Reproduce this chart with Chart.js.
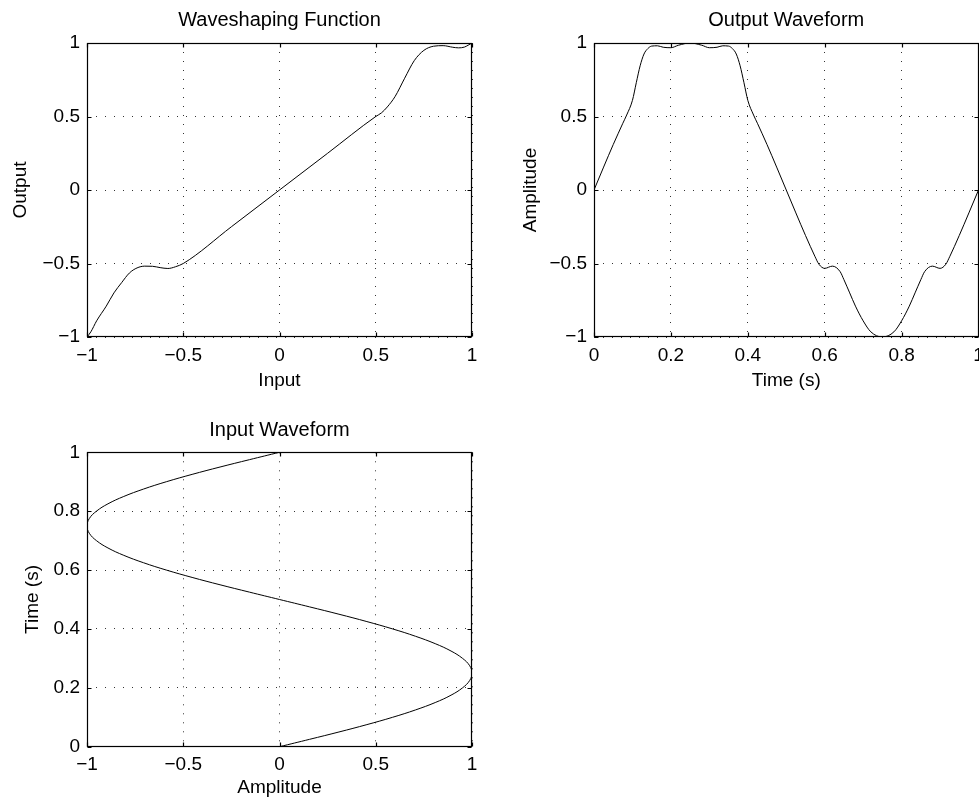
<!DOCTYPE html>
<html>
<head>
<meta charset="utf-8">
<script src="https://cdn.jsdelivr.net/npm/chart.js@4.4.1/dist/chart.umd.min.js"></script>
<style>
  html, body { margin: 0; padding: 0; background: #fff; overflow: hidden; }
  #wrap { position: relative; width: 979px; height: 799px; overflow: hidden; }
  canvas { position: absolute; }
</style>
</head>
<body>
<div id="wrap">
  <canvas id="shapeChart" width="490" height="400" style="left:0;top:0"></canvas>
  <canvas id="outputChart" width="500" height="400" style="left:500px;top:0"></canvas>
  <canvas id="inputChart" width="490" height="399" style="left:0;top:400px"></canvas>
</div>
<script>
// Waveshaping function (input -> output)
const shapeInput = [-1, -0.98, -0.95, -0.9, -0.86, -0.82, -0.78, -0.74, -0.7, -0.66, -0.62, -0.58, -0.54, -0.5,
  -0.25, 0, 0.25, 0.5, 0.53, 0.56, 0.6, 0.65, 0.7, 0.75, 0.8, 0.85, 0.9, 0.93, 0.96, 0.98, 1];
const shapeOutput = [-1, -0.965, -0.89, -0.79, -0.7, -0.63, -0.565, -0.53, -0.518, -0.519, -0.528, -0.534, -0.522, -0.5,
  -0.25, 0, 0.25, 0.5, 0.525, 0.565, 0.635, 0.76, 0.88, 0.95, 0.978, 0.982, 0.971, 0.967, 0.972, 0.985, 1];

// Output waveform (time, amplitude)
const outTime = [0, 0.025, 0.05, 0.075, 0.085, 0.1, 0.11, 0.12, 0.13, 0.14, 0.15, 0.165, 0.18, 0.2, 0.22, 0.25,
  0.28, 0.3, 0.32, 0.335, 0.35, 0.36, 0.37, 0.38, 0.39, 0.4, 0.415, 0.425, 0.45, 0.475, 0.5,
  0.525, 0.55, 0.575, 0.585, 0.6, 0.62, 0.64, 0.65, 0.665, 0.68, 0.7, 0.72, 0.75,
  0.78, 0.8, 0.82, 0.835, 0.85, 0.86, 0.88, 0.9, 0.915, 0.925, 0.95, 0.975, 1];
const outAmp = [0, 0.156, 0.309, 0.454, 0.51, 0.61, 0.73, 0.845, 0.925, 0.962, 0.979, 0.981, 0.971, 0.968, 0.985, 1,
  0.985, 0.968, 0.971, 0.981, 0.979, 0.962, 0.925, 0.845, 0.73, 0.61, 0.51, 0.454, 0.309, 0.156, 0,
  -0.156, -0.309, -0.454, -0.505, -0.533, -0.518, -0.555, -0.61, -0.7, -0.79, -0.89, -0.965, -1,
  -0.965, -0.89, -0.79, -0.7, -0.61, -0.555, -0.518, -0.533, -0.505, -0.454, -0.309, -0.156, 0];

// Input waveform (amplitude on x, time on y)
const inTime = [0, 0.025, 0.05, 0.075, 0.1, 0.125, 0.15, 0.175, 0.2, 0.225, 0.25, 0.275, 0.3, 0.325, 0.35, 0.375,
  0.4, 0.425, 0.45, 0.475, 0.5, 0.525, 0.55, 0.575, 0.6, 0.625, 0.65, 0.675, 0.7, 0.725, 0.75,
  0.775, 0.8, 0.825, 0.85, 0.875, 0.9, 0.925, 0.95, 0.975, 1];
const inAmp = [0, 0.156, 0.309, 0.454, 0.588, 0.707, 0.809, 0.891, 0.951, 0.988, 1, 0.988, 0.951, 0.891, 0.809, 0.707,
  0.588, 0.454, 0.309, 0.156, 0, -0.156, -0.309, -0.454, -0.588, -0.707, -0.809, -0.891, -0.951, -0.988, -1,
  -0.988, -0.951, -0.891, -0.809, -0.707, -0.588, -0.454, -0.309, -0.156, 0];

// Tick values and labels
const ampTicks = [-1, -0.5, 0, 0.5, 1];
const ampLabels = ["\u22121", "\u22120.5", "0", "0.5", "1"];
const timeTicks = [0, 0.2, 0.4, 0.6, 0.8, 1];
const timeLabels = ["0", "0.2", "0.4", "0.6", "0.8", "1"];

Chart.defaults.font.family = "'Liberation Sans', Arial, Helvetica, sans-serif";
Chart.defaults.font.size = 19;
Chart.defaults.color = "#000";

// Draws the black axes box with small inward tick marks
const boxPlugin = {
  id: "axesBox",
  afterDraw(chart) {
    const { ctx, chartArea: a, scales } = chart;
    const len = 4;
    const l = Math.round(a.left) + 0.5;
    const r = Math.round(a.right) - 0.5;
    const t = Math.round(a.top) + 0.5;
    const b = Math.round(a.bottom) - 0.5;
    ctx.save();
    ctx.strokeStyle = "#000";
    ctx.lineWidth = 1.2;
    ctx.beginPath();
    scales.x.ticks.forEach((tick) => {
      const px = Math.round(scales.x.getPixelForValue(tick.value)) + 0.5;
      ctx.moveTo(px, t);
      ctx.lineTo(px, t + len);
      ctx.moveTo(px, b);
      ctx.lineTo(px, b - len);
    });
    scales.y.ticks.forEach((tick) => {
      const py = Math.round(scales.y.getPixelForValue(tick.value)) + 0.5;
      ctx.moveTo(l, py);
      ctx.lineTo(l + len, py);
      ctx.moveTo(r, py);
      ctx.lineTo(r - len, py);
    });
    ctx.stroke();
    ctx.strokeRect(l, t, r - l, b - t);
    ctx.restore();
  },
};

// Builds one axis (linear, fixed ticks, dotted grid)
function makeAxis(ticks, labels, opts) {
  return {
    type: "linear",
    min: ticks[0],
    max: ticks[ticks.length - 1],
    afterBuildTicks: (scale) => {
      scale.ticks = ticks.map((v) => ({ value: v }));
    },
    afterFit: (scale) => {
      if (opts.width !== undefined) scale.width = opts.width;
      if (opts.height !== undefined) scale.height = opts.height;
      scale.paddingLeft = 0;
      scale.paddingRight = 0;
      scale.paddingTop = 0;
      scale.paddingBottom = 0;
    },
    ticks: {
      padding: opts.tickPad,
      maxRotation: 0,
      autoSkip: false,
      callback: (value, index) => labels[index],
    },
    grid: { color: "#333", lineWidth: 1, drawTicks: false },
    border: { display: false, dash: [1, 8] },
    title: {
      display: true,
      text: opts.title,
      padding: opts.titlePad,
      font: { size: 19, lineHeight: 1 },
    },
  };
}

// Creates one subplot
function makePlot(id, cfg) {
  const points = cfg.xs.map((x, i) => ({ x: x, y: cfg.ys[i] }));
  return new Chart(document.getElementById(id), {
    type: "scatter",
    data: {
      datasets: [
        {
          data: points,
          showLine: true,
          borderColor: "#000",
          borderWidth: 1,
          pointRadius: 0,
          tension: cfg.tension || 0,
          cubicInterpolationMode: cfg.mode || "default",
        },
      ],
    },
    options: {
      responsive: false,
      animation: false,
      devicePixelRatio: 1,
      layout: { padding: cfg.layoutPad },
      plugins: {
        legend: { display: false },
        tooltip: { enabled: false },
        title: {
          display: true,
          text: cfg.title,
          fullSize: false,
          font: { size: 20, weight: "normal", lineHeight: 1.2 },
          padding: cfg.titlePad,
        },
      },
      scales: {
        x: makeAxis(cfg.xTicks, cfg.xLabels, cfg.xAxis),
        y: makeAxis(cfg.yTicks, cfg.yLabels, cfg.yAxis),
      },
    },
    plugins: [boxPlugin],
  });
}

makePlot("shapeChart", {
  xs: shapeInput,
  ys: shapeOutput,
  mode: "monotone",
  title: "Waveshaping Function",
  titlePad: { top: 8, bottom: 11 },
  layoutPad: { left: 0, right: 18, top: 0, bottom: 0 },
  xTicks: ampTicks,
  xLabels: ampLabels,
  yTicks: ampTicks,
  yLabels: ampLabels,
  xAxis: { title: "Input", height: 63, tickPad: 7, titlePad: { top: 0, bottom: 9.5 } },
  yAxis: { title: "Output", width: 87, tickPad: 7, titlePad: { top: 11.5, bottom: 0 } },
});

makePlot("outputChart", {
  xs: outTime,
  ys: outAmp,
  mode: "monotone",
  title: "Output Waveform",
  titlePad: { top: 8, bottom: 11 },
  layoutPad: { left: 0, right: 21.5, top: 0, bottom: 0 },
  xTicks: timeTicks,
  xLabels: timeLabels,
  yTicks: ampTicks,
  yLabels: ampLabels,
  xAxis: { title: "Time (s)", height: 63, tickPad: 7, titlePad: { top: 0, bottom: 9.5 } },
  yAxis: { title: "Amplitude", width: 94, tickPad: 7, titlePad: { top: 21, bottom: 0 } },
});

makePlot("inputChart", {
  xs: inAmp,
  ys: inTime,
  tension: 0.4,
  title: "Input Waveform",
  titlePad: { top: 18.5, bottom: 9.8 },
  layoutPad: { left: 0, right: 18, top: 0, bottom: 0 },
  xTicks: ampTicks,
  xLabels: ampLabels,
  yTicks: timeTicks,
  yLabels: timeLabels,
  xAxis: { title: "Amplitude", height: 52.3, tickPad: 7, titlePad: { top: 0, bottom: 1.5 } },
  yAxis: { title: "Time (s)", width: 87, tickPad: 7, titlePad: { top: 23.5, bottom: 0 } },
});
</script>
</body>
</html>
